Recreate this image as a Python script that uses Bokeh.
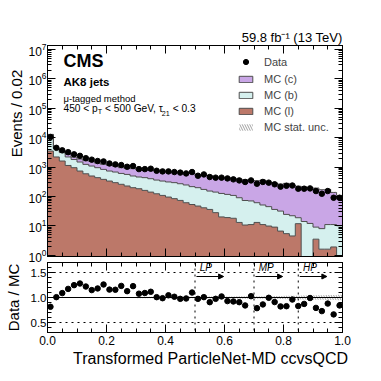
import numpy as np
from bokeh.plotting import figure
from bokeh.layouts import column
from bokeh.models import (ColumnDataSource, Label, Span, Arrow, NormalHead, Legend, LegendItem,
                          LinearAxis, LogAxis, FixedTicker, Range1d,
                          LogTickFormatter, PrintfTickFormatter)
from bokeh.embed import file_html
from bokeh.resources import INLINE

FONT = "Liberation Sans"
NB = "\u00a0"

# ---------------- data ----------------
bin_width = 0.02
n_bins = 50

data_counts = [10500, 4500, 3700, 3200, 2700, 2400, 2000, 1780, 1600, 1550,
               1320, 1230, 1170, 1020, 1080, 850, 850, 875, 745, 710,
               710, 675, 645, 605, 675, 505, 560, 457, 435, 435,
               410, 380, 350, 310, 350, 270, 310, 294, 258, 215,
               230, 235, 183, 183, 187, 152, 123, 152, 90, 90]

mc_l = [3500, 2200, 1600, 1130, 950, 730, 590, 495, 435, 380,
        333, 294, 258, 226, 198, 183, 160, 140, 123, 108,
        95, 84, 73, 61, 53, 47, 41, 36, 28, 20,
        19, 18, 13, 10.6, 11, 13, 11, 9.8, 9, 6.6,
        5.4, 4.5, 11.8, 0, 0, 3.5, 1.6, 1.6, 1.9, 0]

mc_b = [9100, 2100, 1500, 1070, 850, 750, 640, 585, 515, 450,
        397, 381, 347, 334, 297, 274, 275, 260, 237, 225,
        215, 210, 197, 184, 162, 151, 132, 116, 112, 106,
        98, 90, 77, 62, 59, 48, 40, 35, 27, 25,
        19, 17.5, 7, 14, 12, 5.5, 6.4, 9.4, 9.1, 10]

mc_c = [300, 170, 300, 530, 365, 395, 410, 470, 405, 400,
        410, 390, 345, 345, 385, 333, 345, 385, 380, 387,
        370, 371, 393, 372, 399, 321, 383, 352, 307, 300,
        325, 305, 296, 296, 271, 282, 309, 251, 248, 230,
        254, 223, 202, 196, 177, 183, 161, 162, 125, 97]

stat_unc_rel = [0.008, 0.01, 0.01, 0.01, 0.01, 0.01, 0.01, 0.01, 0.01, 0.01,
                0.012, 0.012, 0.012, 0.012, 0.012, 0.013, 0.013, 0.013, 0.014, 0.014,
                0.015, 0.015, 0.016, 0.016, 0.017, 0.018, 0.018, 0.019, 0.02, 0.02,
                0.021, 0.022, 0.023, 0.024, 0.025, 0.026, 0.027, 0.028, 0.03, 0.031,
                0.033, 0.035, 0.037, 0.039, 0.041, 0.043, 0.046, 0.049, 0.052, 0.055]

x_ticks = [0.0, 0.2, 0.4, 0.6, 0.8, 1.0]
ratio_ticks = [0.5, 1.0, 1.5]
wp_edges = [0.5, 0.7, 0.85]
wp_names = ["LP", "MP", "HP"]

COL_C = "#c9a6e6"
COL_B = "#d5f0ee"
COL_L = "#bc7869"
EDGE = "#4d4d4d"
HATCH = "#777777"

# ---------------- derived ----------------
edges = np.arange(n_bins + 1) * bin_width
left, right = edges[:-1], edges[1:]
centers = 0.5 * (left + right)
d = np.array(data_counts, float)
l = np.array(mc_l, float)
b = np.array(mc_b, float)
c = np.array(mc_c, float)
u = np.array(stat_unc_rel, float)
floor = 1e-2
lvl_l = np.maximum(l, floor)
lvl_b = np.maximum(l + b, floor)
lvl_c = l + b + c
ratio = d / lvl_c


def ext(a):
    return np.append(a, a[-1])


ssrc = ColumnDataSource(dict(x=edges, floor=np.full(n_bins + 1, floor),
                             l=ext(lvl_l), b=ext(lvl_b), c=ext(lvl_c)))
src = ColumnDataSource(dict(left=left, right=right,
                            unc_lo=lvl_c * (1 - u), unc_hi=lvl_c * (1 + u),
                            r_lo=1 - u, r_hi=1 + u))
dsrc = ColumnDataSource(dict(x=centers, y=d, r=ratio))


def style_axis(ax, show_labels=True, size="12px", standoff=3):
    ax.major_tick_in = 8
    ax.major_tick_out = 0
    ax.minor_tick_in = 4
    ax.minor_tick_out = 0
    ax.axis_line_color = "black"
    ax.major_tick_line_color = "black"
    ax.minor_tick_line_color = "black"
    ax.major_label_text_font = FONT
    ax.axis_label_text_font = FONT
    ax.axis_label_text_font_style = "normal"
    ax.axis_label_text_color = "black"
    if show_labels:
        ax.major_label_text_color = "black"
        ax.major_label_text_font_size = size
        ax.major_label_standoff = standoff
    else:
        ax.major_label_text_color = None
        ax.major_label_text_font_size = "1px"
        ax.major_label_standoff = 0


def set_label(ax, text, size, standoff):
    ax.axis_label = text
    ax.axis_label_text_font_size = size
    ax.axis_label_standoff = standoff


x_ticker = FixedTicker(ticks=x_ticks,
                       minor_ticks=[round(0.05 * k, 2) for k in range(21)])
y_ticker = FixedTicker(ticks=[10 ** k for k in range(8)],
                       minor_ticks=[m * 10 ** k for k in range(8) for m in range(2, 10)])
r_ticker = FixedTicker(ticks=ratio_ticks,
                       minor_ticks=[round(0.3 + 0.1 * k, 1) for k in range(15)])

# ---------------- main panel ----------------
p = figure(frame_width=295, frame_height=211, x_range=Range1d(0, 1),
           y_range=Range1d(0.9, 1.37e7), y_axis_type="log",
           output_backend="svg", toolbar_location=None,
           title="59.8 fb\u207b\u00b9 (13 TeV)", title_location="above",
           min_border_left=47, min_border_right=24, min_border_top=45, min_border_bottom=10,
           background_fill_color="white", border_fill_color="white")
p.title.align = "right"
p.title.text_font = FONT
p.title.text_font_size = "13px"
p.title.text_font_style = "normal"
p.title.text_color = "black"
p.title.standoff = 2
p.grid.visible = False
p.outline_line_color = "black"
p.outline_line_width = 1

p.varea_step(x="x", y1="floor", y2="l", source=ssrc, step_mode="after", fill_color=COL_L)
p.varea_step(x="x", y1="l", y2="b", source=ssrc, step_mode="after", fill_color=COL_B)
p.varea_step(x="x", y1="b", y2="c", source=ssrc, step_mode="after", fill_color=COL_C)
for col in ("l", "b", "c"):
    p.step(x="x", y=col, source=ssrc, mode="after", line_color=EDGE, line_width=1)
p.quad(left="left", right="right", bottom="unc_lo", top="unc_hi", source=src,
       fill_color=None, line_color=None, hatch_pattern="\\", hatch_color=HATCH,
       hatch_scale=5, hatch_weight=0.7)
p.scatter(x="x", y="y", source=dsrc, size=5.5, color="black")

style_axis(p.xaxis[0], show_labels=False)
p.xaxis[0].ticker = x_ticker
style_axis(p.yaxis[0], size="12px", standoff=1)
p.yaxis[0].ticker = y_ticker
p.yaxis[0].formatter = LogTickFormatter()
set_label(p.yaxis[0], NB * 18 + "Events / 0.02", "15px", 0)
top_ax = LinearAxis(ticker=x_ticker)
style_axis(top_ax, show_labels=False)
p.add_layout(top_ax, "above")
right_ax = LogAxis(ticker=y_ticker)
style_axis(right_ax, show_labels=False)
p.add_layout(right_ax, "right")

# legend proxies (single NaN row: never drawn in the plot)
nan_q = dict(left=[np.nan], right=[np.nan], top=[np.nan], bottom=[np.nan])
nan_p = dict(x=[np.nan], y=[np.nan])
pr_err = p.scatter(x="x", y="y", source=ColumnDataSource(nan_p), marker="dash",
                   angle=np.pi / 2, size=10, line_color="black", line_width=1.2)
pr_dot = p.scatter(x="x", y="y", source=ColumnDataSource(nan_p), size=5.5, color="black")
pr_c = p.quad(left="left", right="right", top="top", bottom="bottom",
              source=ColumnDataSource(nan_q), fill_color=COL_C, line_color=EDGE)
pr_b = p.quad(left="left", right="right", top="top", bottom="bottom",
              source=ColumnDataSource(nan_q), fill_color=COL_B, line_color=EDGE)
pr_l = p.quad(left="left", right="right", top="top", bottom="bottom",
              source=ColumnDataSource(nan_q), fill_color=COL_L, line_color=EDGE)
pr_u = p.quad(left="left", right="right", top="top", bottom="bottom",
              source=ColumnDataSource(nan_q), fill_color=None, line_color=None,
              hatch_pattern="\\", hatch_color=HATCH, hatch_scale=5, hatch_weight=0.7)


def style_legend(lg, gh, lh):
    lg.border_line_color = None
    lg.background_fill_alpha = 0
    lg.padding = 0
    lg.margin = 0
    lg.spacing = 4
    lg.glyph_width = 17
    lg.glyph_height = gh
    lg.label_height = lh
    lg.label_standoff = 10
    lg.label_text_font = FONT
    lg.label_text_font_size = "11px"
    lg.label_text_baseline = "middle"


leg_d = Legend(items=[LegendItem(label="Data", renderers=[pr_err, pr_dot])],
               location=(190, 188))
style_legend(leg_d, 13, 13)
p.add_layout(leg_d)
leg_mc = Legend(items=[LegendItem(label="MC (c)", renderers=[pr_c]),
                       LegendItem(label="MC (b)", renderers=[pr_b]),
                       LegendItem(label="MC (l)", renderers=[pr_l]),
                       LegendItem(label="MC stat. unc.", renderers=[pr_u])],
                location=(190, 123))
style_legend(leg_mc, 8, 12)
p.add_layout(leg_mc)


def lab(fig, x, y, text, size, **kw):
    fig.add_layout(Label(x=x, y=y, x_units="screen", y_units="screen", text=text,
                         text_font=FONT, text_font_size=size, text_color="black", **kw))


lab(p, 16, 186, "CMS", "18px", text_font_style="bold")
lab(p, 16, 169, "AK8 jets", "11.5px", text_font_style="bold")
lab(p, 16, 153, "\u03bc-tagged method", "9.5px")
# 450 < pT < 500 GeV, tau21 < 0.3 (with subscripts)
lab(p, 16, 143, "450 < p", "10.2px")
lab(p, 50.3, 140.5, "T", "7.2px")
lab(p, 54.7, 143, NB + "< 500 GeV, \u03c4", "10.2px")
lab(p, 114.3, 140.5, "21", "7.2px")
lab(p, 122.3, 143, NB + "< 0.3", "10.2px")

# ---------------- ratio panel ----------------
r = figure(frame_width=295, frame_height=70, x_range=p.x_range, y_range=Range1d(0.3, 1.7),
           output_backend="svg", toolbar_location=None,
           min_border_left=47, min_border_right=24, min_border_top=0, min_border_bottom=40,
           background_fill_color="white", border_fill_color="white", border_fill_alpha=0,
           styles={"margin-top": "-4px"})
r.grid.visible = False
r.outline_line_color = "black"
r.outline_line_width = 1

r.quad(left="left", right="right", bottom="r_lo", top="r_hi", source=src,
       fill_color=None, line_color=None, hatch_pattern="\\", hatch_color=HATCH,
       hatch_scale=5, hatch_weight=0.7)
for loc in (0.5, 1.5):
    r.add_layout(Span(location=loc, dimension="width", line_color="black",
                      line_dash="dotted", line_width=1))
r.add_layout(Span(location=1.0, dimension="width", line_color="black", line_width=1))
for wp, name in zip(wp_edges, wp_names):
    r.add_layout(Span(location=wp, dimension="height", line_color="black",
                      line_dash="dotted", line_width=1))
    r.add_layout(Arrow(x_start=wp + 0.005, y_start=1.42, x_end=wp + 0.097, y_end=1.42,
                       line_width=1, line_color="black",
                       end=NormalHead(size=5, fill_color="black", line_color="black")))
    r.add_layout(Label(x=wp + 0.016, y=1.49, text=name, text_font=FONT,
                       text_font_size="10px", text_font_style="italic", text_color="black"))
r.scatter(x="x", y="r", source=dsrc, size=5.5, color="black")

style_axis(r.xaxis[0], size="12px", standoff=3)
r.xaxis[0].ticker = x_ticker
r.xaxis[0].formatter = PrintfTickFormatter(format="%.1f")
set_label(r.xaxis[0], NB * 7 + "Transformed ParticleNet-MD ccvsQCD", "16px", 2)
style_axis(r.yaxis[0], size="11.5px", standoff=1)
r.yaxis[0].ticker = r_ticker
r.yaxis[0].formatter = PrintfTickFormatter(format="%.1f")
set_label(r.yaxis[0], "Data / MC", "15px", 6)
top_ax2 = LinearAxis(ticker=x_ticker)
style_axis(top_ax2, show_labels=False)
r.add_layout(top_ax2, "above")
right_ax2 = LinearAxis(ticker=r_ticker)
style_axis(right_ax2, show_labels=False)
r.add_layout(right_ax2, "right")

layout = column(p, r, spacing=0)
with open("out.html", "w") as f:
    f.write(file_html(layout, INLINE))
